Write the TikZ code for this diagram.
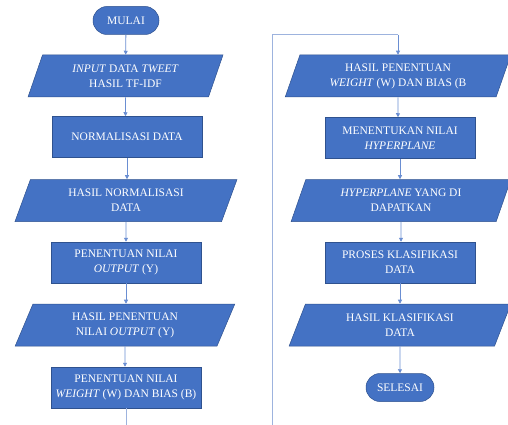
\documentclass[tikz,border=0pt]{standalone}
\usepackage{fontspec}
\setmainfont{Liberation Serif}
\usetikzlibrary{shapes.geometric,shapes.misc,arrows.meta}
\definecolor{boxfill}{HTML}{4472C4}
\definecolor{boxline}{HTML}{2F528F}
\definecolor{conn}{HTML}{6A8ED2}
\definecolor{connlight}{HTML}{9DB3DE}
\begin{document}
\begin{tikzpicture}[x=1pt,y=-1pt,
  base/.style={fill=boxfill, draw=boxline, line width=0.5pt, text=white, align=center,
    font=\fontsize{11.5}{15}\selectfont, inner sep=1pt},
  procbox/.style={base, rectangle, minimum width=150pt, minimum height=41pt},
  iobox/.style={base, trapezium, trapezium left angle=69, trapezium right angle=111,
    trapezium stretches=true, minimum height=42pt},
  termbox/.style={base, rounded rectangle, minimum height=28pt},
  flow/.style={conn, line width=0.8pt, -{Triangle[width=4pt,length=4pt]}},
  plain/.style={connlight, line width=1pt}]
\useasboundingbox[fill=white] (0,0) rectangle (508,425);

% left column
\node[termbox, minimum width=68pt] (mulai) at (126,20.5) {MULAI};
\node[iobox, minimum width=195pt] (p1) at (125.5,76) {\textit{INPUT} DATA \textit{TWEET}\\HASIL TF-IDF};
\node[procbox] (r1) at (127,137) {NORMALISASI DATA};
\node[iobox, minimum width=222pt] (p2) at (126,200.5) {HASIL NORMALISASI\\DATA};
\node[procbox] (r2) at (126,262.5) {PENENTUAN NILAI\\\textit{OUTPUT} (Y)};
\node[iobox, minimum width=220pt] (p3) at (125,325) {HASIL PENENTUAN\\NILAI \textit{OUTPUT} (Y)};
\node[procbox] (r3) at (126,387.5) {PENENTUAN NILAI\\\textit{WEIGHT} (W) DAN BIAS (B)};

% right column
\node[iobox, minimum width=226pt] (p4) at (398,76) {HASIL PENENTUAN\\\textit{WEIGHT} (W) DAN BIAS (B};
\node[procbox] (r4) at (400,138) {MENENTUKAN NILAI\\\textit{HYPERPLANE}};
\node[iobox, minimum width=220pt] (p5) at (401,200.5) {\textit{HYPERPLANE} YANG DI\\DAPATKAN};
\node[procbox] (r5) at (400,262.5) {PROSES KLASIFIKASI\\DATA};
\node[iobox, minimum width=222pt] (p6) at (400,325) {HASIL KLASIFIKASI\\DATA};
\node[termbox, minimum width=70pt] (selesai) at (400,387.5) {SELESAI};

\coordinate (botL) at (126,425);
\coordinate (botR) at (272,425);
\coordinate (cornR) at (272,35);

\draw[flow] (mulai) -- (p1);
\draw[flow] (p1) -- (p1 |- r1.north);
\draw[flow] (r1) -- (r1 |- p2.north);
\draw[flow] (p2) -- (p2 |- r2.north);
\draw[flow] (r2) -- (r2 |- p3.north);
\draw[flow] (p3) -- (p3 |- r3.north);
\draw[plain] (r3) -- (botL);

\draw[plain] (botR) -- (cornR) -- (cornR -| p4.north);
\draw[flow] (cornR -| p4.north) -- (p4.north);
\draw[flow] (p4) -- (p4 |- r4.north);
\draw[flow] (r4) -- (r4 |- p5.north);
\draw[flow] (p5) -- (p5 |- r5.north);
\draw[flow] (r5) -- (r5 |- p6.north);
\draw[flow] (p6) -- (selesai);
\end{tikzpicture}
\end{document}
